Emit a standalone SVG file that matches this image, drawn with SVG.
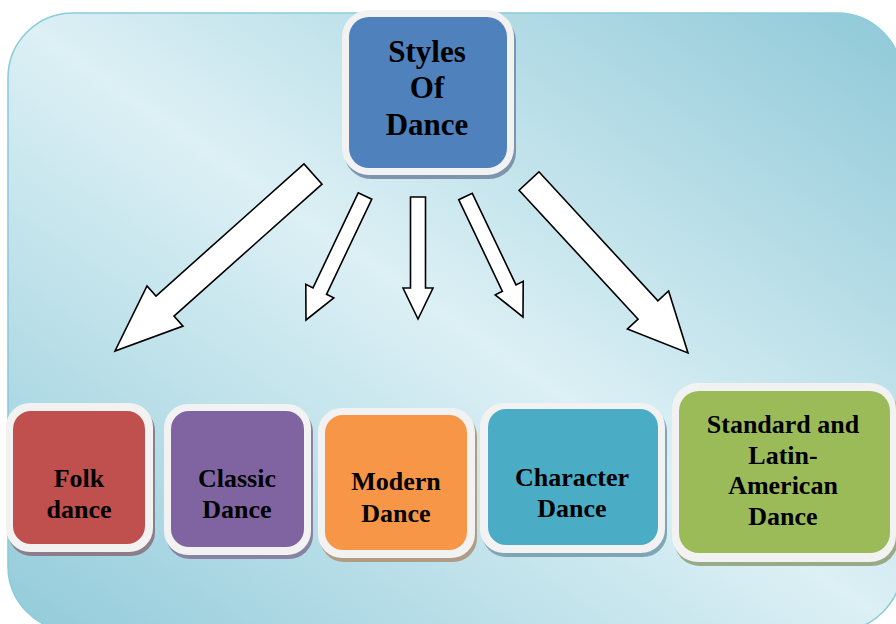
<svg xmlns="http://www.w3.org/2000/svg" width="896" height="624" viewBox="0 0 896 624">
  <defs>
    <linearGradient id="bg" x1="1" y1="0" x2="0" y2="1">
      <stop offset="0" stop-color="#8fc9d8"/>
      <stop offset="0.5" stop-color="#dcf0f5"/>
      <stop offset="1" stop-color="#92cbda"/>
    </linearGradient>
  </defs>
  <style>
    .frame { fill: #f2f2f2; }
    .arrow { fill: #ffffff; stroke: #000000; stroke-width: 1.6; stroke-linejoin: miter; }
    .t { font-family: "Liberation Serif", "Times New Roman", serif; font-weight: bold; fill: #000000; text-anchor: middle; }
    .top { font-size: 31px; }
    .bot { font-size: 26px; }
  </style>

  <rect x="8" y="13" width="894" height="618" rx="65" ry="65" fill="url(#bg)" stroke="#8ccbdb" stroke-width="1.6"/>

  <g id="connectors">
    <polygon class="arrow" points="304,163.9 156,296 147,285.9 115,351 183,326.1 174,316.1 322,184.1"/>
    <polygon class="arrow" points="358.2,192.8 313,287.9 305.8,284.4 306,320 333.8,297.8 326.5,294.3 371.8,199.2"/>
    <polygon class="arrow" points="410.5,197 425.5,197 425.5,288 433,288 418,319 403,288 410.5,288"/>
    <polygon class="arrow" points="472.3,193.3 516,284.9 523.2,281.4 523,317 495.2,294.8 502.4,291.3 458.7,199.7"/>
    <polygon class="arrow" points="538.9,171.8 657.9,300.8 668.6,291 688,353 627.4,329 638.1,319.2 519.1,190.2"/>
  </g>

  <g id="node-styles">
    <rect x="344" y="14" width="172" height="165" rx="27" fill="#7d94ae"/>
    <rect class="frame" x="342" y="10" width="172" height="165" rx="27"/>
    <rect x="349" y="17" width="158" height="151" rx="20" fill="#4f81bd"/>
    <text class="t top" x="427" y="62">Styles</text>
    <text class="t top" x="427" y="98">Of</text>
    <text class="t top" x="427" y="135">Dance</text>
  </g>

  <g id="node-folk">
    <rect x="8" y="407" width="147" height="149" rx="24" fill="#8a7e8a"/>
    <rect class="frame" x="6" y="403" width="147" height="149" rx="24"/>
    <rect x="13" y="411" width="132" height="133" rx="18" fill="#c0504d"/>
    <text class="t bot" x="79" y="487">Folk</text>
    <text class="t bot" x="79" y="518">dance</text>
  </g>

  <g id="node-classic">
    <rect x="166" y="408" width="147" height="151" rx="24" fill="#8883a0"/>
    <rect class="frame" x="164" y="404" width="147" height="151" rx="24"/>
    <rect x="171" y="411" width="133" height="136" rx="18" fill="#8064a2"/>
    <text class="t bot" x="237" y="487">Classic</text>
    <text class="t bot" x="237" y="518">Dance</text>
  </g>

  <g id="node-modern">
    <rect x="320" y="412" width="157" height="150" rx="24" fill="#b09c82"/>
    <rect class="frame" x="318" y="408" width="157" height="150" rx="24"/>
    <rect x="325" y="415" width="142" height="135" rx="18" fill="#f79646"/>
    <text class="t bot" x="396" y="490">Modern</text>
    <text class="t bot" x="396" y="522">Dance</text>
  </g>

  <g id="node-character">
    <rect x="482" y="407" width="185" height="150" rx="24" fill="#7fa6b5"/>
    <rect class="frame" x="480" y="403" width="185" height="150" rx="24"/>
    <rect x="488" y="409" width="170" height="136" rx="18" fill="#4bacc6"/>
    <text class="t bot" x="572" y="486">Character</text>
    <text class="t bot" x="572" y="517">Dance</text>
  </g>

  <g id="node-standard">
    <rect x="674" y="387" width="224" height="179" rx="26" fill="#98ab88"/>
    <rect class="frame" x="672" y="383" width="224" height="179" rx="26"/>
    <rect x="679" y="391" width="211" height="162" rx="20" fill="#9bbb59"/>
    <text class="t bot" x="783" y="433">Standard and</text>
    <text class="t bot" x="783" y="464">Latin-</text>
    <text class="t bot" x="783" y="494">American</text>
    <text class="t bot" x="783" y="525">Dance</text>
  </g>
</svg>
